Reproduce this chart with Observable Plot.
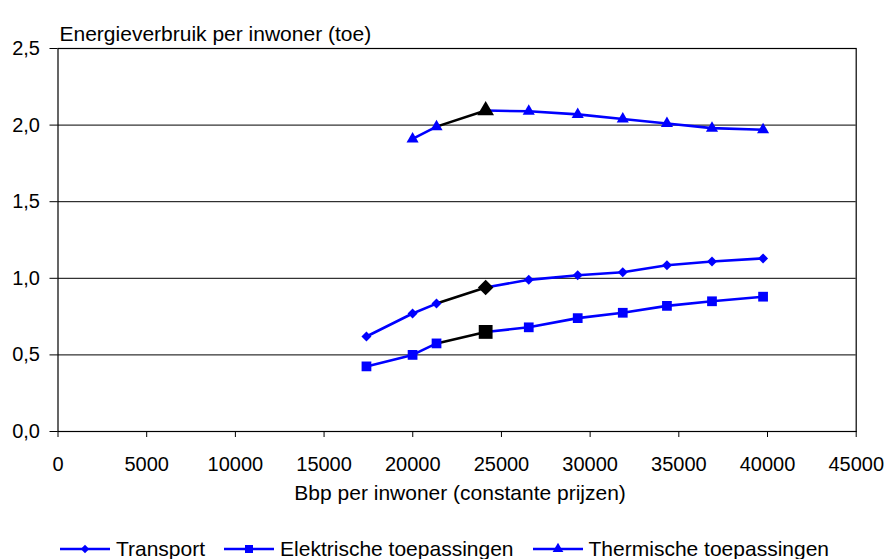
<!DOCTYPE html>
<html>
<head>
<meta charset="utf-8">
<script src="https://cdn.jsdelivr.net/npm/d3@7"></script>
<script src="https://cdn.jsdelivr.net/npm/@observablehq/plot@0.6"></script>
<style>
  body { margin: 0; background: #fff; font-family: "Liberation Sans", Arial, sans-serif; }
  #legend { display: flex; justify-content: center; align-items: center; height: 26px; font-size: 21px; color: #000; }
  .item { display: flex; align-items: center; margin: 0 9px; }
  .item svg { margin-right: 5px; }
</style>
</head>
<body>
<div id="chart"></div>
<div id="legend"></div>
<script>
const gdp = [17390, 19990, 21340, 24110, 26540, 29300, 31840, 34330, 36870, 39750];
const transport = [0.62, 0.77, 0.835, 0.94, 0.99, 1.02, 1.04, 1.085, 1.11, 1.13];
const elektrisch = [0.425, 0.50, 0.575, 0.65, 0.68, 0.74, 0.775, 0.82, 0.85, 0.88];
const thermisch = [null, 1.91, 1.99, 2.095, 2.09, 2.07, 2.04, 2.01, 1.98, 1.97];
const seriesNames = ["Transport", "Elektrische toepassingen", "Thermische toepassingen"];
const seriesValues = [transport, elektrisch, thermisch];
const symbols = ["diamond2", "square", "triangle"];
const xTicks = [0, 5000, 10000, 15000, 20000, 25000, 30000, 35000, 40000, 45000];
const yTicks = [0, 0.5, 1, 1.5, 2, 2.5];
const highlight = 3; // highlighted (black) point; black segment from index 2 to 3
const yTitle = "Energieverbruik per inwoner (toe)";
const xTitle = "Bbp per inwoner (constante prijzen)";

const blue = "#0000ff";
const dotR = { diamond2: 4.5, square: 5.5, triangle: 4.5 };
const bigR = { diamond2: 7.0, square: 7.8, triangle: 6.2 };

const lineRows = [];
const points = [];
seriesNames.forEach((name, s) => {
  const vals = seriesValues[s];
  vals.forEach((v, i) => {
    if (v == null) return;
    points.push({ name, sym: symbols[s], x: gdp[i], y: v, hl: i === highlight });
    if (i <= highlight - 1) lineRows.push({ seg: name + "a", color: blue, x: gdp[i], y: v });
    if (i >= highlight - 1 && i <= highlight) lineRows.push({ seg: name + "b", color: "black", x: gdp[i], y: v });
    if (i >= highlight) lineRows.push({ seg: name + "c", color: blue, x: gdp[i], y: v });
  });
});

const dotMarks = [];
symbols.forEach(sym => {
  dotMarks.push(Plot.dot(points.filter(p => p.sym === sym && !p.hl), { x: "x", y: "y", symbol: () => sym, fill: blue, r: dotR[sym] }));
});
symbols.forEach(sym => {
  dotMarks.push(Plot.dot(points.filter(p => p.sym === sym && p.hl), { x: "x", y: "y", symbol: () => sym, fill: "black", r: bigR[sym] }));
});

const chart = Plot.plot({
  width: 888,
  height: 536,
  marginTop: 48,
  marginLeft: 57.5,
  marginRight: 32.3,
  marginBottom: 105,
  style: { fontFamily: "Liberation Sans, Arial, sans-serif", fontSize: "20px", color: "#000", background: "#fff", overflow: "visible" },
  x: { domain: [0, 45000], ticks: xTicks, tickFormat: d => String(d) },
  y: { domain: [0, 2.5], ticks: yTicks, tickFormat: d => d.toFixed(1).replace(".", ",") },
  color: { type: "identity" },
  symbol: { type: "identity" },
  marks: [
    Plot.ruleY(yTicks.slice(1, -1), { stroke: "black", strokeWidth: 1 }),
    Plot.frame({ stroke: "black", strokeWidth: 1.2 }),
    Plot.axisY({ ticks: yTicks, tickSize: 8, tickPadding: 10, label: null, tickFormat: d => d.toFixed(1).replace(".", ","), fontSize: 20 }),
    Plot.axisX({ ticks: xTicks, tickSize: 6, tickPadding: 19, label: null, tickFormat: d => String(d), fontSize: 20 }),
    Plot.line(lineRows, { x: "x", y: "y", z: "seg", stroke: "color", strokeWidth: 2.6 }),
    ...dotMarks,
    Plot.text([yTitle], { frameAnchor: "top-left", textAnchor: "start", dx: 1.5, dy: -22.5, fontSize: 21, fill: "black" }),
    Plot.text([xTitle], { frameAnchor: "bottom", textAnchor: "middle", dy: 68, dx: 3, fontSize: 21, fill: "black" })
  ]
});
document.getElementById("chart").appendChild(chart);

// Legend
const legend = document.getElementById("legend");
const symMap = { diamond2: d3.symbolDiamond2, square: d3.symbolSquare, triangle: d3.symbolTriangle };
const legendSize = { diamond2: 45, square: 64, triangle: 50 };
seriesNames.forEach((name, s) => {
  const item = document.createElement("div");
  item.className = "item";
  const path = d3.symbol(symMap[symbols[s]], legendSize[symbols[s]])();
  item.innerHTML = `<svg width="52" height="16" viewBox="0 0 52 16"><line x1="1" x2="51" y1="8" y2="8" stroke="${blue}" stroke-width="2.6"/><path d="${path}" transform="translate(26,8)" fill="${blue}"/></svg><span>${name}</span>`;
  legend.appendChild(item);
});
</script>
</body>
</html>
